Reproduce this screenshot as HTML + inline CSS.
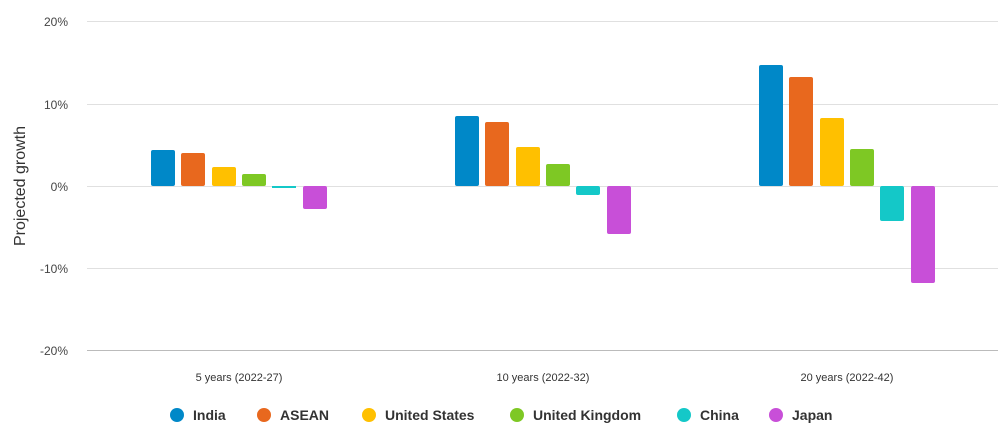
<!DOCTYPE html>
<html><head><style>
body{margin:0;background:#fff;font-family:"Liberation Sans",Arial,sans-serif;}
</style></head><body>
<svg width="1006" height="440" xmlns="http://www.w3.org/2000/svg" font-family="Liberation Sans, Arial, sans-serif">
<g stroke="#e0e0e0" stroke-width="1">
<line x1="87" x2="998" y1="21.5" y2="21.5"/>
<line x1="87" x2="998" y1="104.5" y2="104.5"/>
<line x1="87" x2="998" y1="186.5" y2="186.5"/>
<line x1="87" x2="998" y1="268.5" y2="268.5"/>
</g>
<line x1="87" x2="998" y1="350.5" y2="350.5" stroke="#bbb"/>
<g font-size="12" fill="#444" text-anchor="end">
<text x="68" y="26">20%</text><text x="68" y="109">10%</text><text x="68" y="191">0%</text><text x="68" y="273">-10%</text><text x="68" y="355">-20%</text>
</g>
<text transform="translate(25,186) rotate(-90)" font-size="16" fill="#333" text-anchor="middle">Projected growth</text>
<g font-size="11" fill="#333" text-anchor="middle">
<text x="239" y="381">5 years (2022-27)</text><text x="543" y="381">10 years (2022-32)</text><text x="847" y="381">20 years (2022-42)</text>
</g>
<g>
<!-- group1 -->
<rect x="151" y="150" width="24" height="36" rx="2" fill="#0088c8"/>
<rect x="181" y="153" width="24" height="33" rx="2" fill="#e8681e"/>
<rect x="212" y="167" width="24" height="19" rx="2" fill="#ffc000"/>
<rect x="242" y="174" width="24" height="12" rx="2" fill="#7ec824"/>
<rect x="272" y="186" width="24" height="2" fill="#14c8c8"/>
<rect x="303" y="186" width="24" height="23" rx="2" fill="#c84fd8"/>
<!-- group2 -->
<rect x="455" y="116" width="24" height="70" rx="2" fill="#0088c8"/>
<rect x="485" y="122" width="24" height="64" rx="2" fill="#e8681e"/>
<rect x="516" y="147" width="24" height="39" rx="2" fill="#ffc000"/>
<rect x="546" y="164" width="24" height="22" rx="2" fill="#7ec824"/>
<rect x="576" y="186" width="24" height="9" rx="2" fill="#14c8c8"/>
<rect x="607" y="186" width="24" height="48" rx="2" fill="#c84fd8"/>
<!-- group3 -->
<rect x="759" y="65" width="24" height="121" rx="2" fill="#0088c8"/>
<rect x="789" y="77" width="24" height="109" rx="2" fill="#e8681e"/>
<rect x="820" y="118" width="24" height="68" rx="2" fill="#ffc000"/>
<rect x="850" y="149" width="24" height="37" rx="2" fill="#7ec824"/>
<rect x="880" y="186" width="24" height="35" rx="2" fill="#14c8c8"/>
<rect x="911" y="186" width="24" height="97" rx="2" fill="#c84fd8"/>
</g>
<g font-size="14" font-weight="bold" fill="#333">
<circle cx="177" cy="415" r="7" fill="#0088c8"/><text x="193" y="420">India</text>
<circle cx="264" cy="415" r="7" fill="#e8681e"/><text x="280" y="420">ASEAN</text>
<circle cx="369" cy="415" r="7" fill="#ffc000"/><text x="385" y="420">United States</text>
<circle cx="517" cy="415" r="7" fill="#7ec824"/><text x="533" y="420">United Kingdom</text>
<circle cx="684" cy="415" r="7" fill="#14c8c8"/><text x="700" y="420">China</text>
<circle cx="776" cy="415" r="7" fill="#c84fd8"/><text x="792" y="420">Japan</text>
</g>
</svg>
</body></html>
